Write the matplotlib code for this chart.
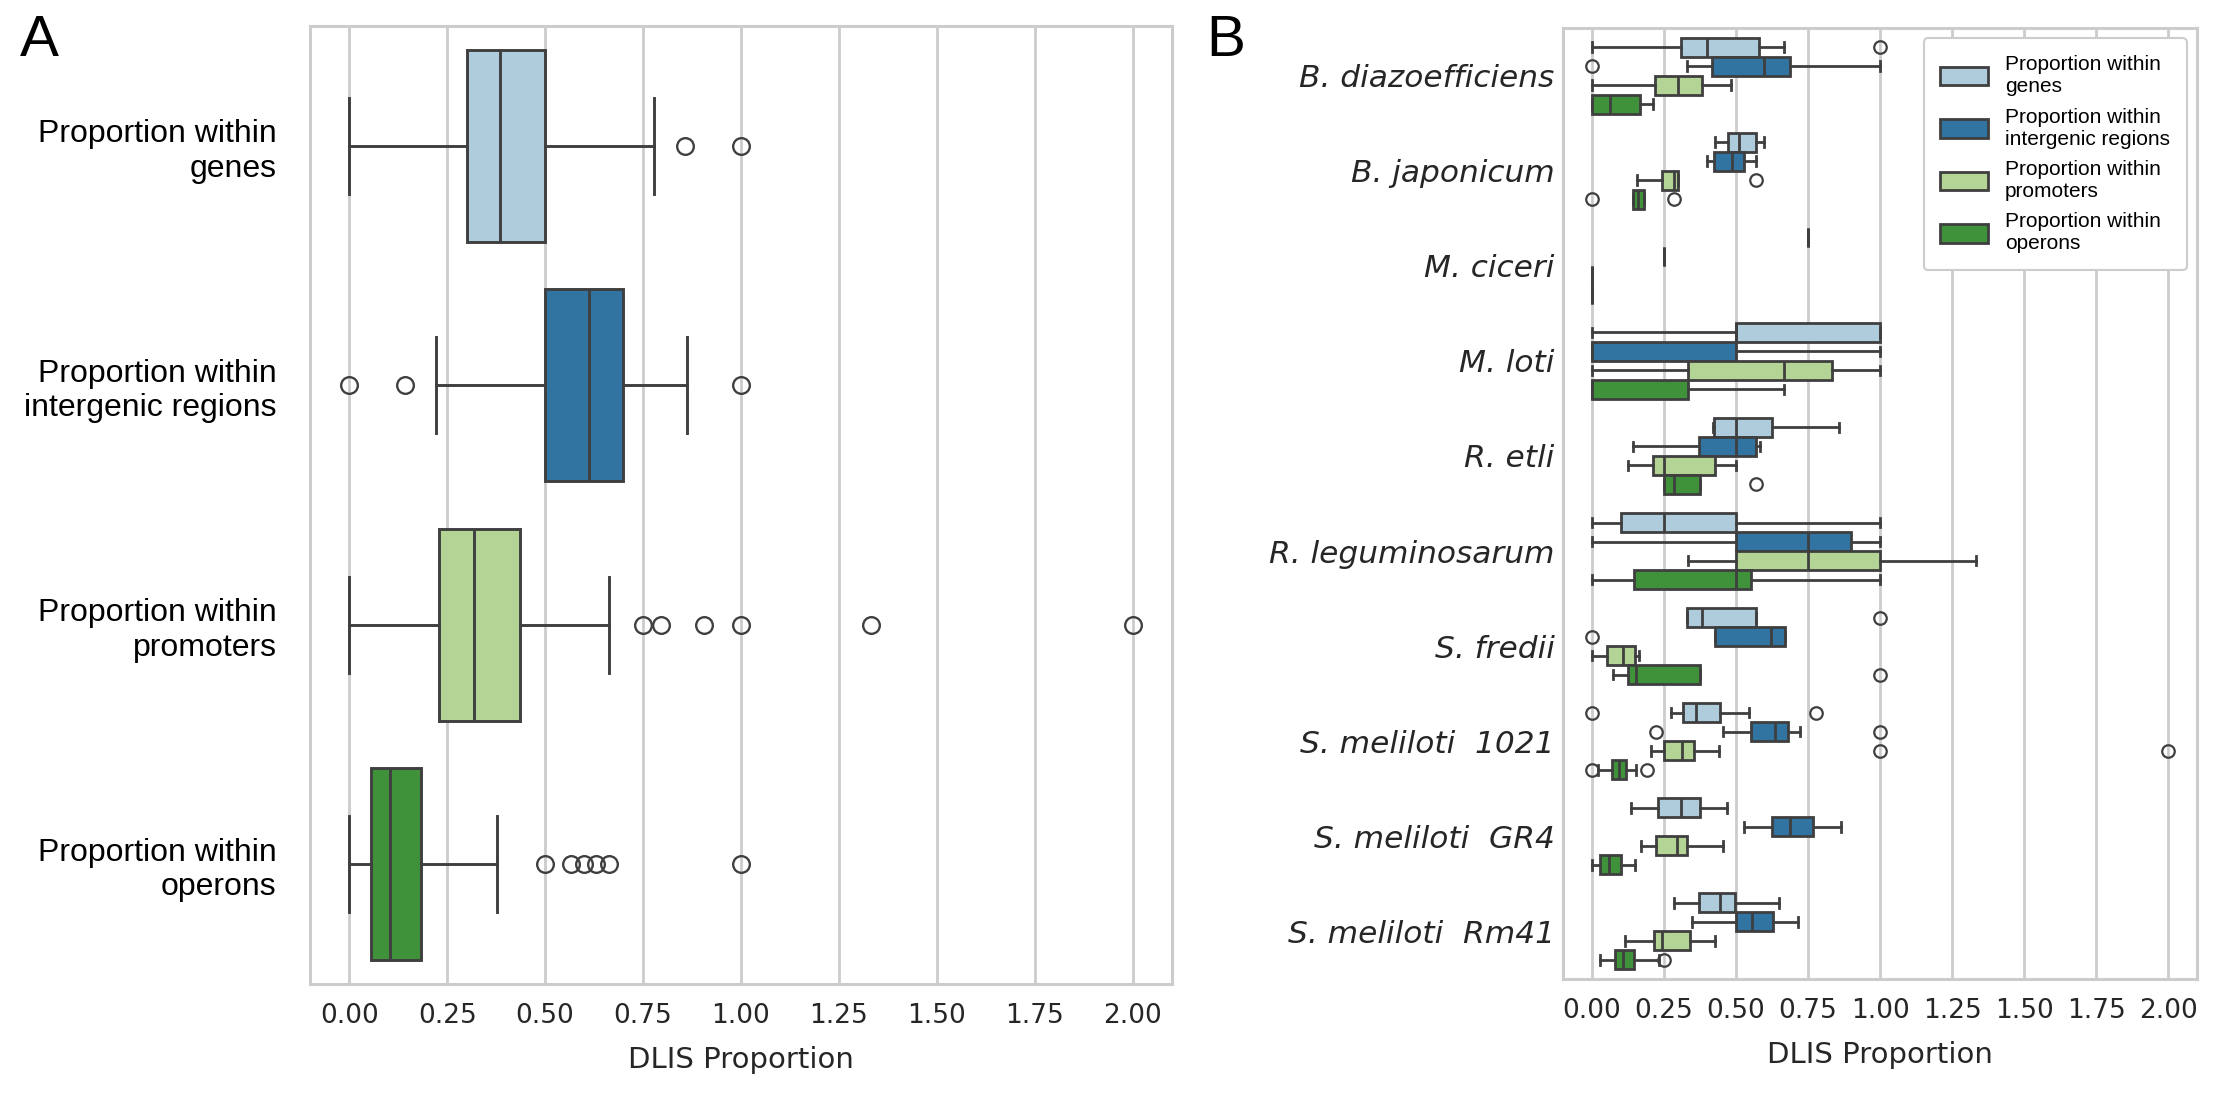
import colorsys
import numpy as np
import matplotlib
matplotlib.use("Agg")
import matplotlib.pyplot as plt
import matplotlib.colors as mcolors
from matplotlib.patches import Patch

# ---- panel A: all genomes pooled ----
cats_a = ["Proportion within\ngenes", "Proportion within\nintergenic regions",
          "Proportion within\npromoters", "Proportion within\noperons"]
a_whislo = [0.0, 0.222, 0.0, 0.0]
a_q1 = [0.300, 0.500, 0.228, 0.055]
a_med = [0.386, 0.611, 0.319, 0.105]
a_q3 = [0.500, 0.700, 0.436, 0.183]
a_whishi = [0.777, 0.863, 0.664, 0.376]
a_fliers = [[0.857, 1.0],
            [0.0, 0.142, 1.0],
            [0.75, 0.797, 0.906, 1.0, 1.333, 2.0],
            [0.5, 0.567, 0.6, 0.629, 0.664, 1.0]]

# ---- panel B: per species, each row = [genes, intergenic, promoters, operons] ----
species = ["B. diazoefficiens", "B. japonicum", "M. ciceri", "M. loti", "R. etli",
           "R. leguminosarum", "S. fredii", "S. meliloti  1021", "S. meliloti  GR4",
           "S. meliloti  Rm41"]
b_whislo = [[0.0, 0.331, 0.0, 0.0],
            [0.427, 0.400, 0.158, 0.142],
            [0.75, 0.25, 0.0, 0.0],
            [0.0, 0.0, 0.0, 0.0],
            [0.420, 0.142, 0.125, 0.249],
            [0.0, 0.0, 0.333, 0.0],
            [0.331, 0.427, 0.0, 0.072],
            [0.275, 0.456, 0.205, 0.020],
            [0.136, 0.528, 0.172, 0.0],
            [0.284, 0.349, 0.114, 0.027]]
b_q1 = [[0.311, 0.418, 0.220, 0.0],
        [0.472, 0.425, 0.242, 0.142],
        [0.75, 0.25, 0.0, 0.0],
        [0.5, 0.0, 0.333, 0.0],
        [0.425, 0.373, 0.214, 0.249],
        [0.100, 0.5, 0.5, 0.145],
        [0.331, 0.427, 0.054, 0.124],
        [0.315, 0.553, 0.249, 0.069],
        [0.230, 0.625, 0.221, 0.030],
        [0.372, 0.500, 0.217, 0.081]]
b_med = [[0.400, 0.596, 0.300, 0.064],
         [0.512, 0.485, 0.284, 0.159],
         [0.75, 0.25, 0.0, 0.0],
         [0.5, 0.0, 0.667, 0.0],
         [0.500, 0.500, 0.249, 0.285],
         [0.250, 0.750, 0.750, 0.500],
         [0.382, 0.621, 0.109, 0.152],
         [0.363, 0.635, 0.313, 0.094],
         [0.310, 0.686, 0.295, 0.061],
         [0.444, 0.556, 0.243, 0.107]]
b_q3 = [[0.580, 0.686, 0.383, 0.168],
        [0.570, 0.527, 0.300, 0.182],
        [0.75, 0.25, 0.0, 0.0],
        [1.0, 0.5, 0.833, 0.333],
        [0.625, 0.570, 0.427, 0.375],
        [0.500, 0.900, 1.000, 0.551],
        [0.570, 0.669, 0.149, 0.376],
        [0.444, 0.682, 0.356, 0.119],
        [0.375, 0.767, 0.331, 0.101],
        [0.498, 0.627, 0.342, 0.148]]
b_whishi = [[0.667, 1.0, 0.483, 0.213],
            [0.599, 0.570, 0.300, 0.182],
            [0.75, 0.25, 0.0, 0.0],
            [1.0, 1.0, 1.0, 0.667],
            [0.857, 0.582, 0.500, 0.375],
            [1.0, 1.0, 1.333, 1.0],
            [0.570, 0.669, 0.165, 0.376],
            [0.544, 0.724, 0.443, 0.152],
            [0.470, 0.864, 0.454, 0.149],
            [0.650, 0.715, 0.428, 0.232]]
b_fliers = [[[1.0], [0.0], [], []],
            [[], [], [0.57], [0.0, 0.285]],
            [[], [], [], []],
            [[], [], [], []],
            [[], [], [], [0.57]],
            [[], [], [], []],
            [[1.0], [0.0], [], [1.0]],
            [[0.0, 0.777], [0.221, 1.0], [1.0, 2.0], [0.0, 0.19]],
            [[], [], [], []],
            [[], [], [], [0.25]]]

hue_names = ["Proportion within\ngenes", "Proportion within\nintergenic regions",
             "Proportion within\npromoters", "Proportion within\noperons"]


def desat(c, prop=0.75):
    h, l, s = colorsys.rgb_to_hls(*mcolors.to_rgb(c))
    return colorsys.hls_to_rgb(h, l, s * prop)


PALETTE = [desat(c) for c in ["#a6cee3", "#1f78b4", "#b2df8a", "#33a02c"]]
LINE = "#3f3f3f"
GRID = "#cccccc"
TXT = "#262626"


def draw_boxes(ax, stats, positions, width, color, msize, lw):
    bp = ax.bxp(stats, positions=positions, widths=width, orientation="horizontal",
                patch_artist=True, manage_ticks=False,
                boxprops=dict(edgecolor=LINE, linewidth=lw),
                whiskerprops=dict(color=LINE, linewidth=lw),
                capprops=dict(color=LINE, linewidth=lw),
                medianprops=dict(color=LINE, linewidth=lw),
                flierprops=dict(marker="o", markerfacecolor="none", markeredgecolor=LINE,
                                markersize=msize, markeredgewidth=lw * 0.8))
    for patch, c in zip(bp["boxes"], color):
        patch.set_facecolor(c)
    return bp


def style_axes(ax):
    ax.set_facecolor("white")
    ax.grid(axis="x", color=GRID, linewidth=2)
    ax.grid(axis="y", visible=False)
    ax.set_axisbelow(True)
    for s in ax.spines.values():
        s.set_color(GRID)
        s.set_linewidth(2.2)
    ax.tick_params(length=0)
    ax.set_xlim(-0.1, 2.1)
    ax.set_xticks(np.arange(0, 2.01, 0.25))
    ax.set_xticklabels([f"{v:.2f}" for v in np.arange(0, 2.01, 0.25)])


fig = plt.figure(figsize=(22.19, 10.95), dpi=100)

# panel A
ax_a = fig.add_axes([310 / 2219, 1 - 984 / 1095, 862 / 2219, 958 / 1095])
style_axes(ax_a)
stats_a = [dict(whislo=a_whislo[i], q1=a_q1[i], med=a_med[i], q3=a_q3[i],
                whishi=a_whishi[i], fliers=a_fliers[i]) for i in range(len(cats_a))]
draw_boxes(ax_a, stats_a, np.arange(len(cats_a)), 0.8, PALETTE, 12, 2.1)
ax_a.set_ylim(len(cats_a) - 0.5, -0.5)
ax_a.set_yticks(np.arange(len(cats_a)))
ax_a.set_yticklabels(cats_a, fontsize=23, family="Liberation Sans", color="black",
                     ha="right", multialignment="right")
ax_a.tick_params(axis="y", pad=24)
ax_a.tick_params(axis="x", labelsize=19, labelcolor=TXT, pad=14)
ax_a.set_xlabel("DLIS Proportion", fontsize=21, color=TXT, labelpad=12)

# panel B
ax_b = fig.add_axes([1563 / 2219, 1 - 979 / 1095, 634 / 2219, 951 / 1095])
style_axes(ax_b)
n_hue = len(hue_names)
for h in range(n_hue):
    stats_b = [dict(whislo=b_whislo[s][h], q1=b_q1[s][h], med=b_med[s][h], q3=b_q3[s][h],
                    whishi=b_whishi[s][h], fliers=b_fliers[s][h]) for s in range(len(species))]
    pos = np.arange(len(species)) + (h - (n_hue - 1) / 2) * 0.2
    draw_boxes(ax_b, stats_b, pos, 0.2, [PALETTE[h]] * len(species), 9, 2.0)
ax_b.set_ylim(len(species) - 0.5, -0.5)
ax_b.set_yticks(np.arange(len(species)))
ax_b.set_yticklabels(species, fontsize=22.5, color=TXT, style="italic")
ax_b.tick_params(axis="y", pad=6)
ax_b.tick_params(axis="x", labelsize=19, labelcolor=TXT, pad=14)
ax_b.set_xlabel("DLIS Proportion", fontsize=21, color=TXT, labelpad=12)

handles = [Patch(facecolor=PALETTE[h], edgecolor=LINE, linewidth=2, label=hue_names[h])
           for h in range(n_hue)]
leg = ax_b.legend(handles=handles, loc="upper right", prop=dict(family="Liberation Sans", size=15),
                  frameon=True, fancybox=True, edgecolor=GRID, framealpha=1,
                  borderpad=0.8, labelspacing=0.55, handlelength=2.3, handleheight=1.0)
leg.get_frame().set_linewidth(1.5)

fig.text(20 / 2219, 1 - 14 / 1095, "A", fontsize=42, family="Liberation Sans", va="top", ha="left")
fig.text(1206 / 2219, 1 - 14 / 1095, "B", fontsize=42, family="Liberation Sans", va="top", ha="left")

fig.savefig("out.png", dpi=100, facecolor="white")
